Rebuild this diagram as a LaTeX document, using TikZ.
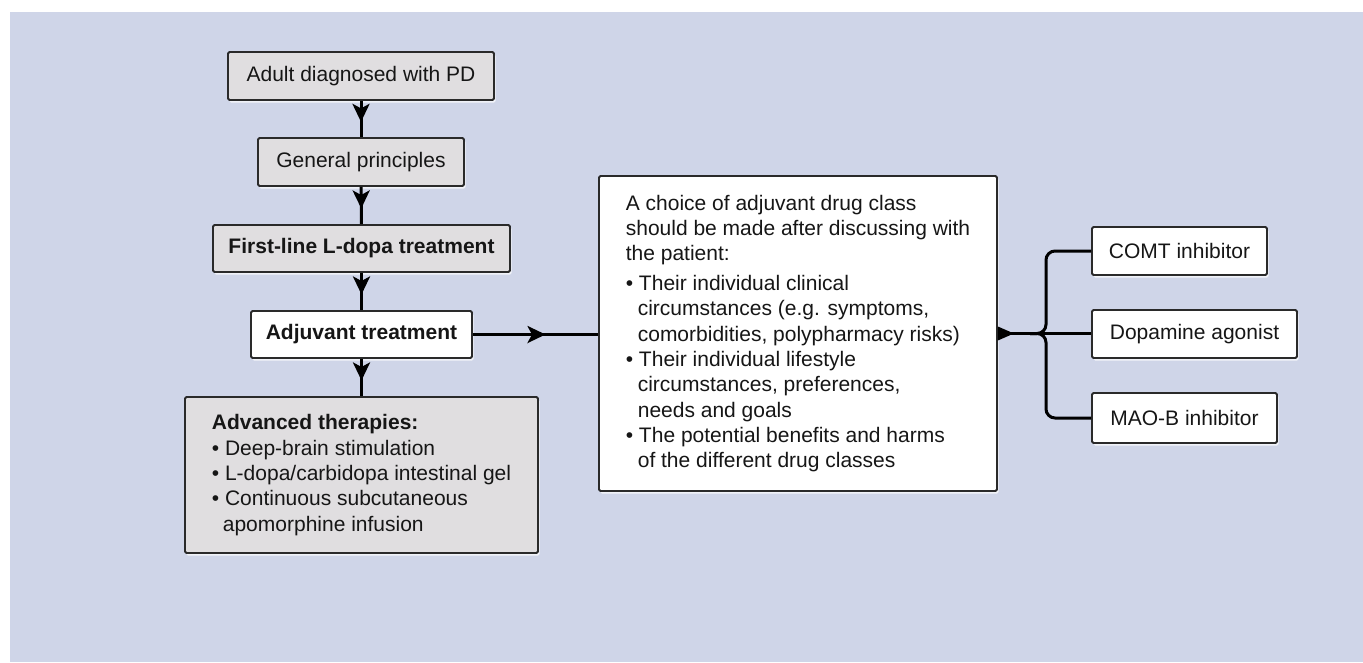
\documentclass[tikz,border=0pt]{standalone}
\usepackage{fontspec}
\setmainfont{Liberation Sans}
\usetikzlibrary{arrows.meta,decorations.markings,shadows,calc}
\definecolor{bgblue}{HTML}{CFD5E8}
\definecolor{boxgray}{HTML}{E0DEE0}
\definecolor{edgecol}{HTML}{2A2A2A}
\definecolor{ink}{HTML}{161616}
\begin{document}
\begin{tikzpicture}[x=1pt,y=-1pt,
  box/.style={draw=edgecol, line width=1.8pt, rounded corners=1.5pt, inner sep=0pt, text=ink,
    font=\fontsize{21}{25.3}\selectfont,
    drop shadow={shadow xshift=1.5pt, shadow yshift=-2.5pt, fill=white, opacity=0.7}},
  graybox/.style={box, fill=boxgray},
  whitebox/.style={box, fill=white},
  flow/.style={line width=3pt, draw=black, postaction={decorate},
    decoration={markings, mark=at position 0.58 with {\arrow{Stealth[length=18pt,width=17pt,inset=4.5pt]}}}},
  link/.style={line width=3pt, draw=black, rounded corners=9pt}
]
\useasboundingbox (0,0) rectangle (1363,662);
\fill[bgblue] (10,12) rectangle (1363,662);

\node[graybox, minimum width=266pt, minimum height=48pt] (adult) at (361,76) {Adult diagnosed with PD};
\node[graybox, minimum width=206pt, minimum height=48pt] (gen) at (361,162) {General principles};
\node[graybox, minimum width=297pt, minimum height=47pt] (first) at (361.5,248.5) {\bfseries First-line L-dopa treatment};
\node[whitebox, minimum width=221pt, minimum height=47pt] (adj) at (361.5,334.5) {\bfseries Adjuvant treatment};
\node[graybox, minimum width=353pt, minimum height=156pt, align=left] (adv) at (361.5,475)
  {{\bfseries Advanced therapies:}\\
   \textbullet\ Deep-brain stimulation\\
   \textbullet\ L-dopa/carbidopa intestinal gel\\
   \textbullet\ Continuous subcutaneous\\
   \hspace*{11pt}apomorphine infusion};

\node[whitebox, minimum width=398pt, minimum height=315pt, align=left] (big) at (798,333.5)
  {A choice of adjuvant drug class\\
   should be made after discussing with\\
   the patient:\\[4.5pt]
   \textbullet\ Their individual clinical\\
   \hspace*{12pt}circumstances (e.g. symptoms,\\
   \hspace*{12pt}comorbidities, polypharmacy risks)\\
   \textbullet\ Their individual lifestyle\\
   \hspace*{12pt}circumstances, preferences,\\
   \hspace*{12pt}needs and goals\\
   \textbullet\ The potential benefits and harms\\
   \hspace*{12pt}of the different drug classes};

\node[whitebox, minimum width=175pt, minimum height=48pt] (comt) at (1179.5,251) {COMT inhibitor};
\node[whitebox, minimum width=205pt, minimum height=48pt] (dopa) at (1194.5,334) {Dopamine agonist};
\node[whitebox, minimum width=185pt, minimum height=50pt] (maob) at (1184.5,418) {MAO-B inhibitor};

\draw[flow] (adult) -- (gen);
\draw[flow] (gen) -- (first);
\draw[flow] (first) -- (adj);
\draw[flow] (adj) -- (adv);
\draw[flow] (adj.east) -- (big.west |- adj.east);

\coordinate (jn) at (1046,333.5);
\coordinate (stem) at (1030,333.5);
\coordinate (tip) at (big.east |- jn);
\draw[line width=3pt] (tip) -- (dopa.west |- jn);
\draw[link] (comt.west) -- (jn |- comt.west) -- (jn) -- (stem);
\draw[link] (maob.west) -- (jn |- maob.west) -- (jn) -- (stem);
\fill[black] ($(tip)+(0,-7)$) -- ($(tip)+(0,7)$) -- ($(tip)+(16,0)$) -- cycle;
\end{tikzpicture}
\end{document}
